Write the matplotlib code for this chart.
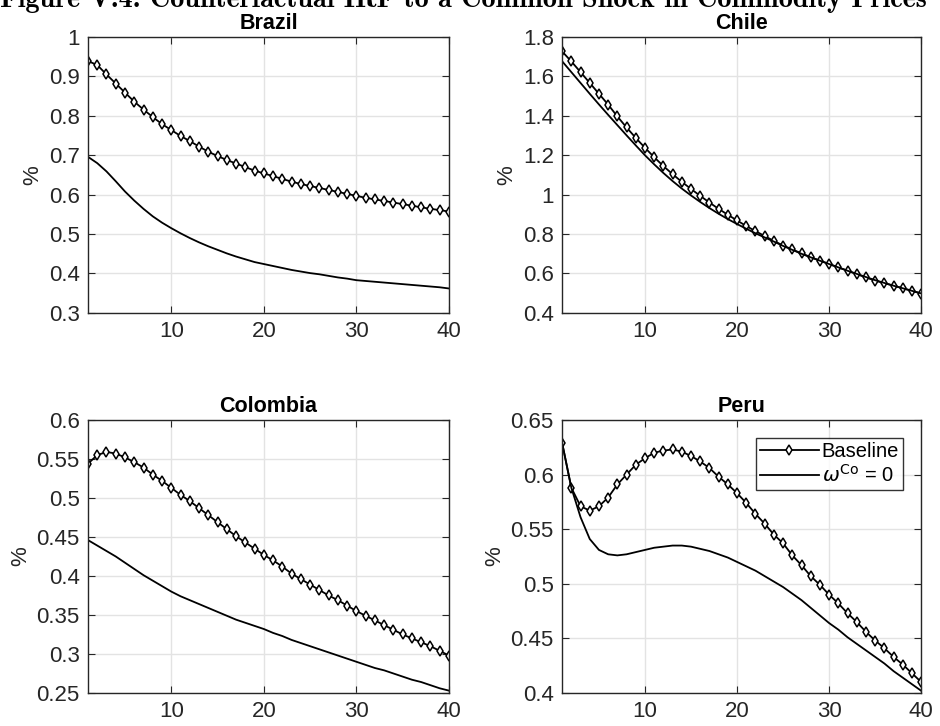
"""
Counterfactual IRF to a common commodity price shock - Brazil, Chile, Colombia, Peru
"""
import matplotlib
matplotlib.use("Agg")
import matplotlib.pyplot as plt
from matplotlib.ticker import FuncFormatter
import numpy as np

horizon = list(range(1, 41))

brazil_base = [0.939, 0.929, 0.905, 0.882, 0.859, 0.836, 0.816, 0.797, 0.779, 0.764,
               0.749, 0.736, 0.722, 0.709, 0.698, 0.688, 0.679, 0.670, 0.661, 0.654,
               0.647, 0.640, 0.633, 0.627, 0.622, 0.617, 0.612, 0.607, 0.602, 0.597,
               0.592, 0.588, 0.584, 0.580, 0.576, 0.572, 0.568, 0.564, 0.561, 0.557]
brazil_cf = [0.696, 0.680, 0.659, 0.634, 0.608, 0.585, 0.564, 0.545, 0.529, 0.515,
             0.502, 0.490, 0.479, 0.469, 0.460, 0.451, 0.443, 0.436, 0.429, 0.424,
             0.419, 0.414, 0.409, 0.405, 0.401, 0.398, 0.394, 0.390, 0.387, 0.383,
             0.381, 0.379, 0.377, 0.375, 0.373, 0.371, 0.369, 0.367, 0.365, 0.362]

chile_base = [1.727, 1.676, 1.622, 1.567, 1.512, 1.457, 1.397, 1.341, 1.288, 1.238,
              1.190, 1.145, 1.104, 1.065, 1.029, 0.994, 0.960, 0.928, 0.898, 0.869,
              0.841, 0.815, 0.790, 0.765, 0.742, 0.722, 0.702, 0.683, 0.665, 0.648,
              0.631, 0.614, 0.597, 0.580, 0.564, 0.551, 0.538, 0.525, 0.512, 0.498]
chile_cf = [1.677, 1.622, 1.567, 1.512, 1.458, 1.405, 1.353, 1.301, 1.250, 1.200,
            1.154, 1.110, 1.069, 1.031, 0.996, 0.963, 0.932, 0.903, 0.876, 0.851,
            0.827, 0.804, 0.783, 0.762, 0.740, 0.720, 0.700, 0.682, 0.665, 0.648,
            0.631, 0.614, 0.598, 0.582, 0.566, 0.552, 0.538, 0.525, 0.512, 0.499]

colombia_base = [0.544, 0.555, 0.559, 0.557, 0.552, 0.546, 0.539, 0.530, 0.522, 0.513,
                 0.504, 0.496, 0.487, 0.478, 0.469, 0.460, 0.451, 0.443, 0.435, 0.427,
                 0.420, 0.412, 0.403, 0.396, 0.389, 0.382, 0.375, 0.369, 0.362, 0.355,
                 0.349, 0.343, 0.337, 0.331, 0.325, 0.320, 0.315, 0.310, 0.304, 0.298]
colombia_cf = [0.446, 0.439, 0.432, 0.425, 0.417, 0.409, 0.401, 0.394, 0.387, 0.380,
               0.374, 0.369, 0.364, 0.359, 0.354, 0.349, 0.344, 0.340, 0.336, 0.332,
               0.327, 0.323, 0.318, 0.314, 0.310, 0.306, 0.302, 0.298, 0.294, 0.290,
               0.286, 0.282, 0.279, 0.275, 0.271, 0.267, 0.264, 0.260, 0.256, 0.253]

peru_base = [0.629, 0.588, 0.571, 0.567, 0.571, 0.579, 0.591, 0.600, 0.609, 0.615,
             0.620, 0.622, 0.623, 0.621, 0.617, 0.612, 0.606, 0.598, 0.591, 0.583,
             0.574, 0.564, 0.555, 0.545, 0.537, 0.526, 0.517, 0.507, 0.499, 0.490,
             0.482, 0.473, 0.465, 0.456, 0.448, 0.441, 0.433, 0.426, 0.418, 0.410]
peru_cf = [0.629, 0.588, 0.561, 0.541, 0.531, 0.527, 0.526, 0.527, 0.529, 0.531,
           0.533, 0.534, 0.535, 0.535, 0.534, 0.532, 0.530, 0.527, 0.524, 0.520,
           0.516, 0.512, 0.507, 0.502, 0.497, 0.491, 0.485, 0.478, 0.471, 0.464,
           0.458, 0.451, 0.445, 0.439, 0.433, 0.427, 0.420, 0.414, 0.408, 0.402]

countries = ["Brazil", "Chile", "Colombia", "Peru"]
baselines = [brazil_base, chile_base, colombia_base, peru_base]
counterfactuals = [brazil_cf, chile_cf, colombia_cf, peru_cf]
ylims = [(0.3, 1.0), (0.4, 1.8), (0.25, 0.6), (0.4, 0.65)]
ysteps = [0.1, 0.2, 0.05, 0.05]
xticks = [10, 20, 30, 40]

plt.rcParams["font.family"] = ["Liberation Sans", "DejaVu Sans"]
INK = "#262626"

fig = plt.figure(figsize=(9.4, 7.26), dpi=100)
positions = [[0.0936, 0.569, 0.384, 0.380], [0.598, 0.569, 0.382, 0.380],
             [0.0936, 0.0455, 0.384, 0.376], [0.598, 0.0455, 0.382, 0.376]]

for pos, name, base, cf, yl, st in zip(positions, countries, baselines,
                                       counterfactuals, ylims, ysteps):
    ax = fig.add_axes(pos)
    ax.plot(horizon, base, color="black", lw=1.3, marker="d", ms=5.5,
            mfc="white", mec="black", mew=1.1, label="Baseline")
    ax.plot(horizon, cf, color="black", lw=1.3, label=r"$\omega^{\rm Co}$ = 0")
    ax.set_xlim(1, 40)
    ax.set_ylim(*yl)
    ax.set_xticks(xticks)
    ax.set_yticks(np.arange(yl[0], yl[1] + st / 2, st))
    ax.yaxis.set_major_formatter(FuncFormatter(lambda v, p: f"{v:.2f}".rstrip("0").rstrip(".")))
    ax.grid(True, color="#e3e3e3", lw=1.0)
    ax.set_axisbelow(True)
    ax.tick_params(direction="in", length=5, width=0.8, labelsize=16, colors=INK,
                   top=True, right=True, pad=6)
    for s in ax.spines.values():
        s.set_color(INK)
        s.set_linewidth(1.0)
    ax.set_ylabel("%", fontsize=16, color=INK)
    ax.set_title(name, fontsize=15.5, fontweight="bold", pad=6)
    if name == "Peru":
        leg = ax.legend(loc="upper right", fontsize=14.5, frameon=True, fancybox=False,
                        edgecolor="black", handlelength=2.9, borderaxespad=0.9,
                        borderpad=0.2, labelspacing=0.15, handletextpad=0.15)
        leg.get_frame().set_linewidth(1.0)

# caption of the source document, cut by the top edge as in the screenshot
fig.text(0.0, 0.9904, "Figure V.4: Counterfactual IRF to a Common Shock in Commodity Prices",
         fontsize=20.3, fontweight="bold", family=["cmb10", "DejaVu Serif"],
         ha="left", va="baseline")

plt.savefig("out.png", dpi=100)
plt.close()
